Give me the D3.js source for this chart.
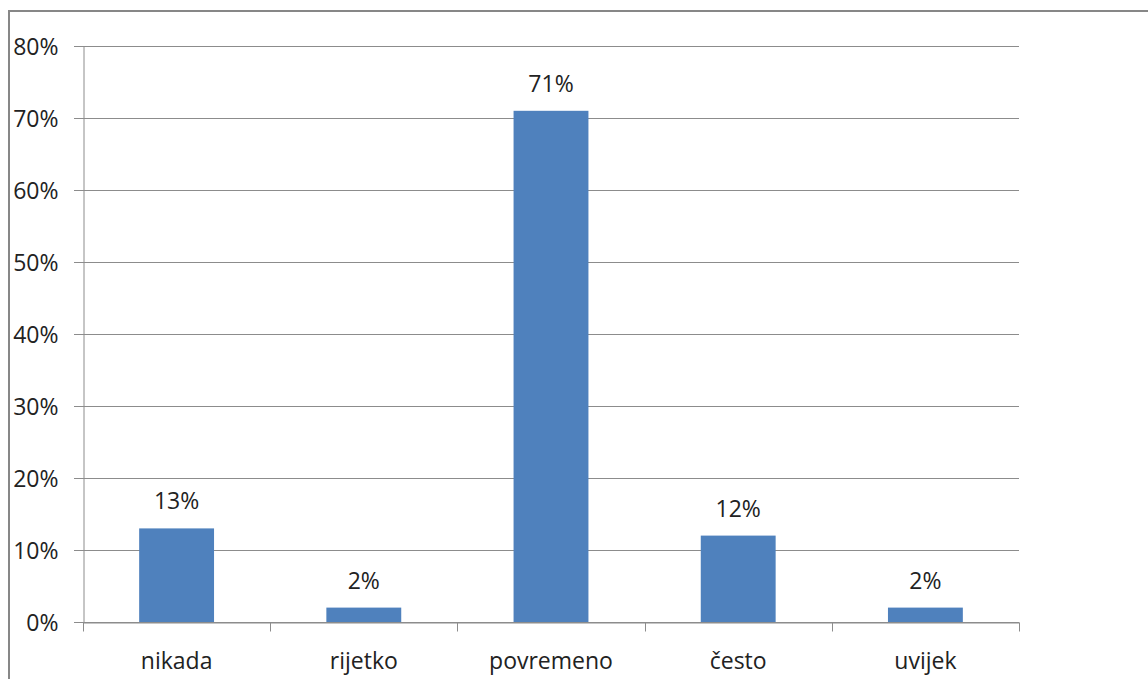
<!DOCTYPE html>
<html>
<head>
<meta charset="utf-8">
<script src="https://cdnjs.cloudflare.com/ajax/libs/d3/7.8.5/d3.min.js"></script>
<style>
  body { margin: 0; background: #fff; }
  text { font-family: "Open Sans", sans-serif; fill: #222; }
</style>
</head>
<body>
<div id="chart"></div>
<script>
// data
var categories = ["nikada", "rijetko", "povremeno", "često", "uvijek"];
var values = [13, 2, 71, 12, 2];
var yTicks = [0, 10, 20, 30, 40, 50, 60, 70, 80];

var svgWidth = 1148;
var svgHeight = 679;

var margin = { top: 46, right: 129, bottom: 57, left: 83 };
var width = svgWidth - margin.left - margin.right;
var height = svgHeight - margin.top - margin.bottom;

var svg = d3.select("#chart")
  .append("svg")
  .attr("width", svgWidth)
  .attr("height", svgHeight);

// outer chart frame (runs off the right and bottom edge)
svg.append("rect")
  .attr("x", 9)
  .attr("y", 11)
  .attr("width", 1200)
  .attr("height", 800)
  .attr("fill", "none")
  .attr("stroke", "#878787")
  .attr("stroke-width", 2);

var chartGroup = svg.append("g")
  .attr("transform", `translate(${margin.left}, ${margin.top})`);

var xScale = d3.scaleBand()
  .domain(categories)
  .range([0, width])
  .paddingInner(0.6)
  .paddingOuter(0.3);

var yScale = d3.scaleLinear()
  .domain([0, 80])
  .range([height, 0]);

// gridlines
chartGroup.append("g")
  .selectAll("line")
  .data(yTicks)
  .enter()
  .append("line")
  .attr("x1", -9)
  .attr("x2", width)
  .attr("y1", d => yScale(d) + 0.5)
  .attr("y2", d => yScale(d) + 0.5)
  .attr("stroke", "#8c8c8c")
  .attr("stroke-width", 1);

// y axis
var leftAxis = d3.axisLeft(yScale)
  .tickValues(yTicks)
  .tickSize(9)
  .tickPadding(16)
  .tickFormat(d => d + "%");

var yAxis = chartGroup.append("g")
  .attr("transform", "translate(0.5,0)")
  .call(leftAxis);
yAxis.select(".domain").attr("stroke", "#8c8c8c");
yAxis.selectAll(".tick line").attr("stroke", "#8c8c8c");
yAxis.selectAll("text")
  .attr("font-size", "23px")
  .attr("fill", "#222")
  .attr("dy", "0.35em");

// x axis with ticks between categories
var bottomAxis = d3.axisBottom(xScale)
  .tickSize(0)
  .tickPadding(30);

var xAxis = chartGroup.append("g")
  .attr("transform", `translate(0, ${height + 0.5})`)
  .call(bottomAxis);
xAxis.select(".domain").attr("stroke", "#8c8c8c");
xAxis.selectAll("text")
  .attr("font-size", "23px")
  .attr("fill", "#222");

var step = xScale.step();
xAxis.append("g")
  .selectAll("line")
  .data(d3.range(categories.length + 1))
  .enter()
  .append("line")
  .attr("x1", i => Math.round(i * step) + 0.5)
  .attr("x2", i => Math.round(i * step) + 0.5)
  .attr("y1", 0)
  .attr("y2", 9)
  .attr("stroke", "#8c8c8c");

// bars
chartGroup.selectAll(".bar")
  .data(values)
  .enter()
  .append("rect")
  .attr("class", "bar")
  .attr("x", (d, i) => xScale(categories[i]))
  .attr("y", d => yScale(d))
  .attr("width", xScale.bandwidth())
  .attr("height", d => height - yScale(d))
  .attr("fill", "#4f81bd");

// value labels
chartGroup.selectAll(".valueText")
  .data(values)
  .enter()
  .append("text")
  .attr("class", "valueText")
  .attr("x", (d, i) => xScale(categories[i]) + xScale.bandwidth() / 2)
  .attr("y", d => yScale(d) - 19)
  .attr("text-anchor", "middle")
  .attr("font-size", "23px")
  .text(d => d + "%");
</script>
</body>
</html>
